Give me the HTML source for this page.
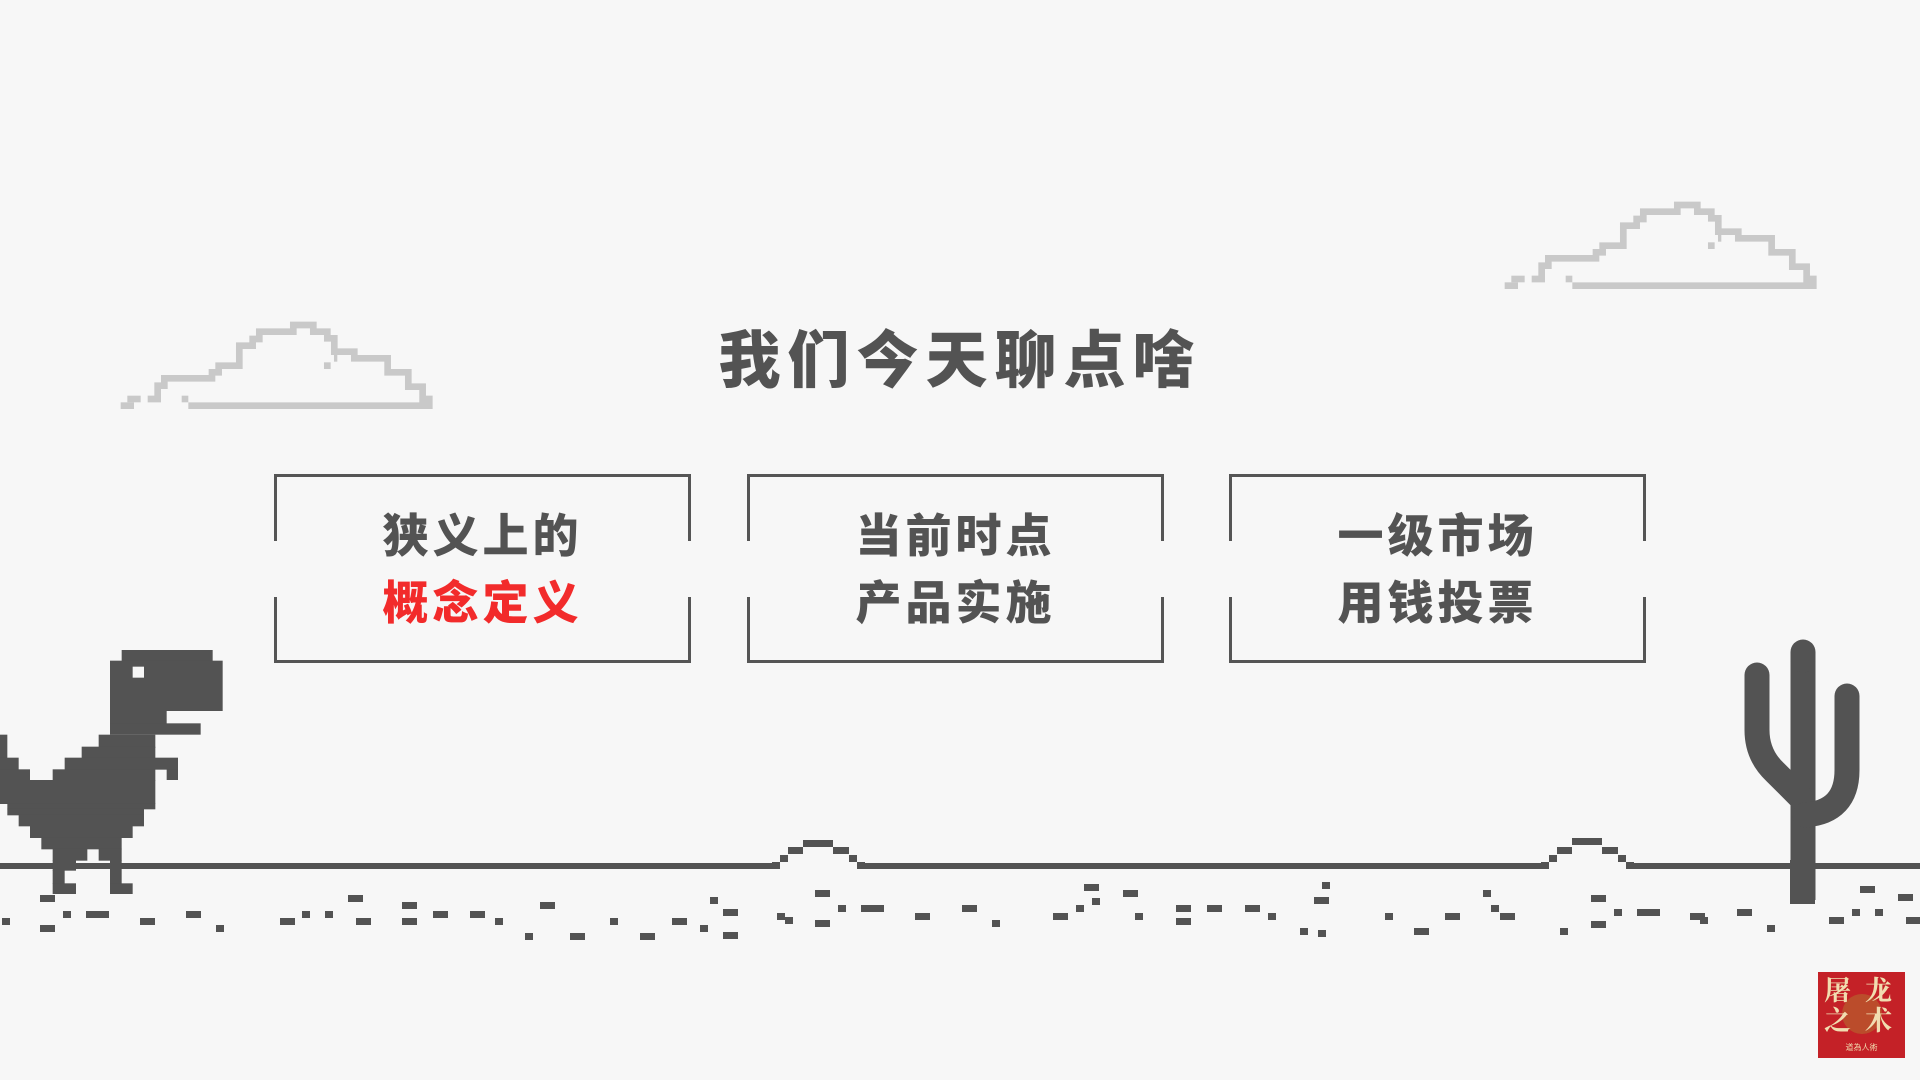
<!DOCTYPE html>
<html><head><meta charset="utf-8"><style>
html,body{margin:0;padding:0;background:#f7f7f7;}
body{width:1920px;height:1080px;position:relative;overflow:hidden;font-family:"Liberation Sans","Noto Sans CJK SC",sans-serif;}
.t{position:absolute;left:0;width:1920px;text-align:center;top:322px;font-size:62px;font-weight:900;color:#535353;letter-spacing:7px;line-height:80px;}
.box{position:absolute;top:474px;width:417px;height:183px;border-top:3px solid #555;border-bottom:3px solid #555;}
.box:before,.box:after{content:"";position:absolute;top:0;bottom:0;width:3px;background:linear-gradient(#555 0,#555 64px,transparent 64px,transparent 120px,#555 120px);}
.box:before{left:0}.box:after{right:0}
.bt{position:absolute;left:0;right:0;text-align:center;font-size:46px;font-weight:900;color:#535353;letter-spacing:4px;line-height:56px;}
.l1{top:31px}.l2{top:98px}
.red{color:#f22b2b}
</style></head><body>
<div class="t">我们今天聊点啥</div>
<div class="box" style="left:274px"><div class="bt l1">狭义上的</div><div class="bt l2 red">概念定义</div></div>
<div class="box" style="left:747px"><div class="bt l1">当前时点</div><div class="bt l2">产品实施</div></div>
<div class="box" style="left:1229px"><div class="bt l1">一级市场</div><div class="bt l2">用钱投票</div></div>

<svg width="1920" height="1080" style="position:absolute;left:0;top:0" xmlns="http://www.w3.org/2000/svg">
<defs>
<g id="cloud" fill="none" stroke="#c9c9c9" stroke-width="20">
<polyline points="235,272 958,272 958,252 938,252 938,215 895,215 895,172 833,172 833,130 733,130 733,110 673,110 673,70 652,70 652,50 610,50 610,30 550,30 550,50 448,50 448,72 428,72 428,92 388,92 388,152 326,152 326,172 306,172 306,190 163,190 163,212 143,212 143,252 113,252"/>
<rect x="215" y="242" width="20" height="20" fill="#c9c9c9" stroke="none"/>
<rect x="642" y="142" width="20" height="20" fill="#c9c9c9" stroke="none"/>
<rect x="32" y="262" width="40" height="20" fill="#c9c9c9" stroke="none"/>
<rect x="52" y="242" width="40" height="20" fill="#c9c9c9" stroke="none"/>
<rect x="672" y="80" width="10" height="60" fill="#c9c9c9" stroke="none"/>
</g>
</defs>
<g transform="translate(110,315) scale(0.3333)"><use href="#cloud"/></g>
<g transform="translate(1494,195) scale(0.3333)"><use href="#cloud"/></g>

<g fill="#535353">
<rect x="0" y="863" width="772" height="6"/>
<rect x="772" y="862" width="8" height="7"/><rect x="780" y="855" width="8" height="7"/><rect x="788" y="847" width="15" height="7"/><rect x="803" y="840" width="30" height="7"/><rect x="833" y="847" width="16" height="7"/><rect x="849" y="855" width="8" height="7"/><rect x="857" y="862" width="8" height="7"/>
<rect x="865" y="863" width="676" height="6"/>
<rect x="1541" y="862" width="8" height="7"/><rect x="1549" y="855" width="8" height="7"/><rect x="1557" y="847" width="15" height="7"/><rect x="1572" y="838" width="30" height="7"/><rect x="1602" y="847" width="16" height="7"/><rect x="1618" y="855" width="8" height="7"/><rect x="1626" y="862" width="8" height="7"/>
<rect x="1634" y="863" width="286" height="6"/>
</g>

<g fill="#535353">
<rect x="40" y="895" width="15" height="7"/><rect x="63" y="911" width="8" height="7"/><rect x="86" y="911" width="23" height="7"/><rect x="2" y="918" width="8" height="7"/><rect x="40" y="925" width="15" height="7"/><rect x="140" y="918" width="15" height="7"/><rect x="186" y="911" width="15" height="7"/><rect x="216" y="925" width="8" height="7"/>
<rect x="280" y="918" width="15" height="7"/><rect x="302" y="911" width="8" height="7"/><rect x="325" y="911" width="8" height="7"/><rect x="348" y="895" width="15" height="7"/><rect x="356" y="918" width="15" height="7"/><rect x="402" y="902" width="15" height="7"/><rect x="402" y="918" width="15" height="7"/><rect x="433" y="911" width="15" height="7"/><rect x="470" y="911" width="15" height="7"/><rect x="495" y="918" width="8" height="7"/><rect x="525" y="933" width="8" height="7"/><rect x="540" y="902" width="15" height="7"/><rect x="570" y="933" width="15" height="7"/>
<rect x="610" y="918" width="8" height="7"/><rect x="640" y="933" width="15" height="7"/><rect x="672" y="918" width="15" height="7"/><rect x="700" y="925" width="8" height="7"/><rect x="710" y="897" width="8" height="7"/><rect x="723" y="909" width="15" height="7"/><rect x="723" y="932" width="15" height="7"/><rect x="777" y="913" width="8" height="7"/><rect x="785" y="917" width="8" height="7"/><rect x="815" y="890" width="15" height="7"/><rect x="815" y="920" width="15" height="7"/><rect x="838" y="905" width="8" height="7"/><rect x="861" y="905" width="23" height="7"/><rect x="915" y="913" width="15" height="7"/><rect x="962" y="905" width="15" height="7"/><rect x="992" y="920" width="8" height="7"/>
<rect x="1053" y="913" width="15" height="7"/><rect x="1076" y="905" width="8" height="7"/><rect x="1084" y="884" width="15" height="7"/><rect x="1092" y="898" width="8" height="7"/><rect x="1123" y="890" width="15" height="7"/><rect x="1135" y="913" width="8" height="7"/><rect x="1176" y="905" width="15" height="7"/><rect x="1176" y="918" width="15" height="7"/><rect x="1207" y="905" width="15" height="7"/><rect x="1245" y="905" width="15" height="7"/><rect x="1268" y="913" width="8" height="7"/><rect x="1300" y="928" width="8" height="7"/><rect x="1314" y="897" width="15" height="7"/><rect x="1322" y="882" width="8" height="7"/><rect x="1318" y="930" width="8" height="7"/>
<rect x="1385" y="913" width="8" height="7"/><rect x="1414" y="928" width="15" height="7"/><rect x="1445" y="913" width="15" height="7"/><rect x="1483" y="890" width="8" height="7"/><rect x="1491" y="905" width="8" height="7"/><rect x="1500" y="913" width="15" height="7"/><rect x="1560" y="928" width="8" height="7"/><rect x="1591" y="895" width="15" height="7"/><rect x="1591" y="921" width="15" height="7"/><rect x="1614" y="909" width="8" height="7"/><rect x="1637" y="909" width="23" height="7"/><rect x="1690" y="913" width="15" height="7"/><rect x="1737" y="909" width="15" height="7"/><rect x="1767" y="925" width="8" height="7"/>
<rect x="1700" y="917" width="8" height="7"/><rect x="1829" y="917" width="15" height="7"/><rect x="1852" y="909" width="8" height="7"/><rect x="1860" y="886" width="15" height="7"/><rect x="1875" y="909" width="8" height="7"/><rect x="1898" y="894" width="15" height="7"/><rect x="1906" y="917" width="14" height="7"/>
</g>

<g fill="none" stroke="#535353" stroke-width="25" stroke-linecap="round">
<path d="M1803 652 V900" stroke-linecap="butt"/>
<path d="M1803 652 V660"/>
<path d="M1757 675 V730 Q1757 755 1775 772 L1800 797"/>
<path d="M1847 696 V770 Q1847 812 1805 815"/>
</g>
<rect x="1790" y="860" width="25" height="44" fill="#535353"/>

<svg x="0" y="630" width="260" height="300" viewBox="0 0 780 900">
<g fill="#535353">
<rect x="365" y="60" width="273" height="40"/><rect x="330" y="92" width="338" height="151"/>
<rect x="330" y="243" width="170" height="40"/><rect x="330" y="280" width="272" height="34"/>
<rect x="296" y="314" width="170" height="40"/><rect x="245" y="350" width="221" height="36"/>
<rect x="194" y="383" width="340" height="36"/><rect x="500" y="418" width="34" height="32"/>
<rect x="158" y="418" width="308" height="34"/>
<rect x="0" y="314" width="22" height="72"/><rect x="0" y="383" width="56" height="36"/><rect x="0" y="418" width="90" height="34"/>
<rect x="0" y="450" width="466" height="72"/><rect x="22" y="520" width="444" height="18"/><rect x="22" y="536" width="410" height="20"/>
<rect x="56" y="553" width="376" height="36"/><rect x="90" y="588" width="308" height="36"/><rect x="124" y="622" width="241" height="36"/>
<rect x="158" y="656" width="104" height="36"/><rect x="296" y="656" width="69" height="36"/>
<rect x="158" y="690" width="70" height="32"/><rect x="330" y="690" width="35" height="72"/>
<rect x="158" y="720" width="36" height="42"/><rect x="158" y="760" width="70" height="32"/><rect x="330" y="760" width="68" height="32"/>
</g>
<rect x="398" y="110" width="34" height="33" fill="#f7f7f7"/>
</svg>
</svg>

<div style="position:absolute;left:1818px;top:972px;width:87px;height:86px;background:#c42127;">
<div style="position:absolute;left:24px;top:22px;width:40px;height:40px;border-radius:50%;background:#b8602e;opacity:.7"></div>
<div style="position:absolute;left:6px;top:4px;font-size:27px;line-height:30px;color:#f1ddb0;font-weight:700;font-family:'Liberation Sans','Noto Serif CJK SC',serif;">屠<span style="margin-left:14px">龙</span><br>之<span style="margin-left:14px">术</span></div>
<div style="position:absolute;left:0;right:0;top:70px;text-align:center;font-size:8px;color:#f1ddb0;">道為人術</div>
</div>
</body></html>
